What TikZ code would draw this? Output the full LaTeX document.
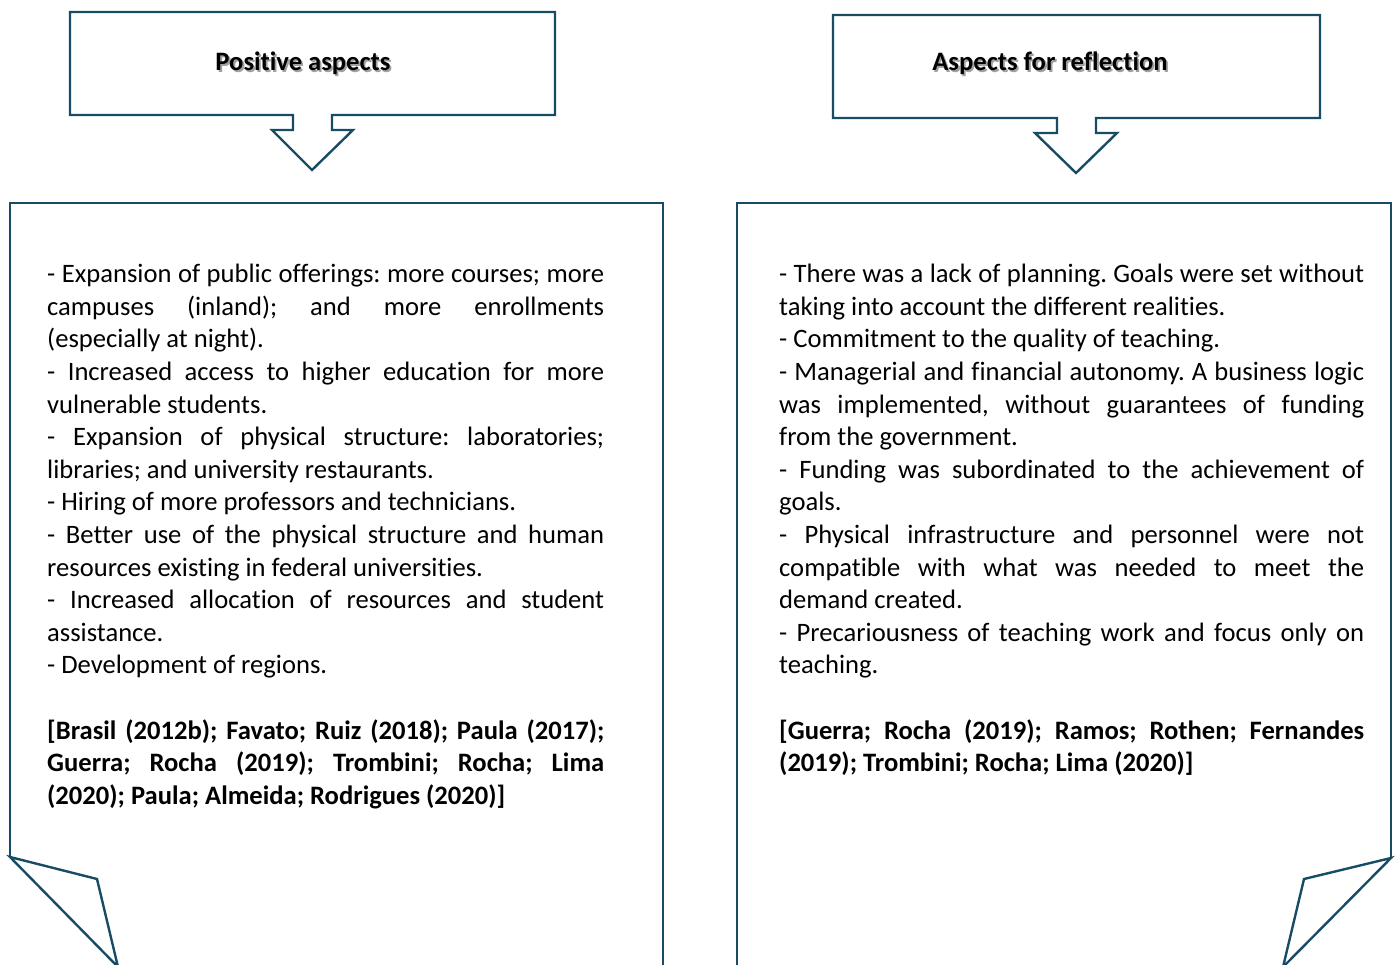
\documentclass[tikz,border=0pt]{standalone}
\usepackage{fontspec}
\setmainfont{Carlito}[Ligatures={NoCommon}]
\definecolor{edge}{RGB}{24,76,100}
\definecolor{shade}{RGB}{160,160,160}
\begin{document}
\begin{tikzpicture}[x=1pt,y=-1pt,
  frame/.style={draw=edge,line width=2.4pt,line join=miter},
  bodytext/.style={anchor=north west,inner sep=0pt,align=justify,font=\fontsize{26.6}{32.6}\selectfont\frenchspacing},
  titletext/.style={inner sep=0pt,font=\fontsize{26.6}{30}\selectfont\bfseries},
  shadowtext/.style={titletext,text=shade}]
\useasboundingbox (0,0) rectangle (1398,965);
% left callout
\draw[frame] (70,12) -- (555,12) -- (555,115) -- (332,115) -- (332,130) -- (353,130) -- (312,170) -- (272,130) -- (293,130) -- (293,115) -- (70,115) -- cycle;
% right callout
\draw[frame] (833,15) -- (1320,15) -- (1320,118) -- (1096,118) -- (1096,133) -- (1117,133) -- (1076,173) -- (1035,133) -- (1057,133) -- (1057,118) -- (833,118) -- cycle;
% titles with shadow
\node[shadowtext] (t1s) at (304.8,65) {Positive aspects};
\node[titletext] (t1) at (303,63) {Positive aspects};
\node[shadowtext] (t2s) at (1051.8,65) {Aspects for reflection};
\node[titletext] (t2) at (1050,63) {Aspects for reflection};
% left box
\draw[frame] (10,857) -- (10,203) -- (663,203) -- (663,967);
\draw[frame] (10,857) -- (97,879) -- (118,967) -- cycle;
% right box
\draw[frame] (1391,858) -- (1391,203) -- (737,203) -- (737,967);
\draw[frame] (1391,858) -- (1304,879) -- (1283,967) -- cycle;
% left text
\node[bodytext,text width=557pt] (ltext) at (47,264) {%
- Expansion of public offerings: more courses; more\linebreak
campuses (inland); and more enrollments\linebreak
(especially at night).\par
- Increased access to higher education for more\linebreak
vulnerable students.\par
- Expansion of physical structure: laboratories;\linebreak
libraries; and university restaurants.\par
- Hiring of more professors and technicians.\par
- Better use of the physical structure and human\linebreak
resources existing in federal universities.\par
- Increased allocation of resources and student\linebreak
assistance.\par
- Development of regions.\par
\mbox{}\par
\textbf{[Brasil (2012b); Favato; Ruiz (2018); Paula (2017);\linebreak
Guerra; Rocha (2019); Trombini; Rocha; Lima\linebreak
(2020); Paula; Almeida; Rodrigues (2020)]}};
% right text
\node[bodytext,text width=585pt] (rtext) at (779,264) {%
- There was a lack of planning. Goals were set without\linebreak
taking into account the different realities.\par
- Commitment to the quality of teaching.\par
- Managerial and financial autonomy. A business logic\linebreak
was implemented, without guarantees of funding\linebreak
from the government.\par
- Funding was subordinated to the achievement of\linebreak
goals.\par
- Physical infrastructure and personnel were not\linebreak
compatible with what was needed to meet the\linebreak
demand created.\par
- Precariousness of teaching work and focus only on\linebreak
teaching.\par
\mbox{}\par
\textbf{[Guerra; Rocha (2019); Ramos; Rothen; Fernandes\linebreak
(2019); Trombini; Rocha; Lima (2020)]}};
\end{tikzpicture}
\end{document}
